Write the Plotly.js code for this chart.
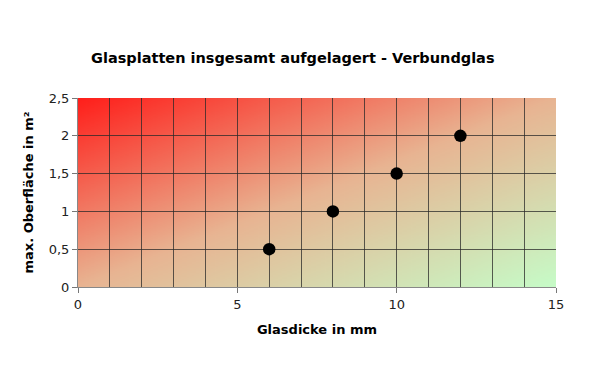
<!DOCTYPE html>
<html>
<head>
<meta charset="utf-8">
<script src="https://cdn.plot.ly/plotly-3.0.1.min.js"></script>
<style>html,body{margin:0;padding:0;background:#fff;}#chart{width:600px;height:365px;}</style>
</head>
<body>
<div id="chart"></div>
<script>
const thickness = [6, 8, 10, 12];
const maxArea = [0.5, 1, 1.5, 2];
const yTickVals = [0, 0.5, 1, 1.5, 2, 2.5];
const yTickText = ['0', '0,5', '1', '1,5', '2', '2,5'];
const xTickVals = [0, 5, 10, 15];
const xTickText = ['0', '5', '10', '15'];

// gradient background
const cv = document.createElement('canvas');
cv.width = 200; cv.height = 200;
const ctx = cv.getContext('2d');
const g = ctx.createLinearGradient(0, 0, 200, 200);
g.addColorStop(0, '#ff1e1a');
g.addColorStop(0.5, '#e8b492');
g.addColorStop(1, '#c6fcc8');
ctx.fillStyle = g;
ctx.fillRect(0, 0, 200, 200);
const bg = cv.toDataURL('image/png');

const font = 'DejaVu Sans, Verdana, sans-serif';
const data = [{
  x: thickness, y: maxArea, type: 'scatter', mode: 'markers',
  marker: {color: '#000', size: 12.5}, hoverinfo: 'x+y'
}];
const layout = {
  width: 600, height: 365,
  margin: {l: 78, r: 44, t: 98, b: 78},
  paper_bgcolor: '#fff', plot_bgcolor: 'rgba(0,0,0,0)',
  showlegend: false,
  font: {family: font, size: 13, color: '#222'},
  title: {text: '<b>Glasplatten insgesamt aufgelagert - Verbundglas</b>', font: {family: font, size: 14.5, color: '#000'}, x: 0.488, xanchor: 'center', y: 0.84, yanchor: 'middle'},
  xaxis: {
    range: [0, 15], tickvals: xTickVals, ticktext: xTickText,
    ticks: 'outside', ticklen: 5, tickcolor: '#777',
    showline: true, linecolor: '#888', linewidth: 1,
    showgrid: false, zeroline: false,
    minor: {dtick: 1, showgrid: true, gridcolor: 'rgba(40,40,40,0.75)', gridwidth: 1},
    title: {text: '<b>Glasdicke in mm</b>', font: {family: font, size: 13, color: '#000'}, standoff: 14}
  },
  yaxis: {
    range: [0, 2.5], tickvals: yTickVals, ticktext: yTickText,
    ticks: 'outside', ticklen: 5, tickcolor: '#777',
    showline: true, linecolor: '#888', linewidth: 1,
    showgrid: true, gridcolor: 'rgba(40,40,40,0.75)', gridwidth: 1, zeroline: false,
    title: {text: '<b>max. Oberfläche in m²</b>', font: {family: font, size: 13, color: '#000'}, standoff: 12}
  },
  images: [{source: bg, xref: 'paper', yref: 'paper', x: 0, y: 1, sizex: 1, sizey: 1, sizing: 'stretch', layer: 'below', xanchor: 'left', yanchor: 'top'}]
};
Plotly.newPlot('chart', data, layout, {displayModeBar: false, staticPlot: true});
</script>
</body>
</html>
